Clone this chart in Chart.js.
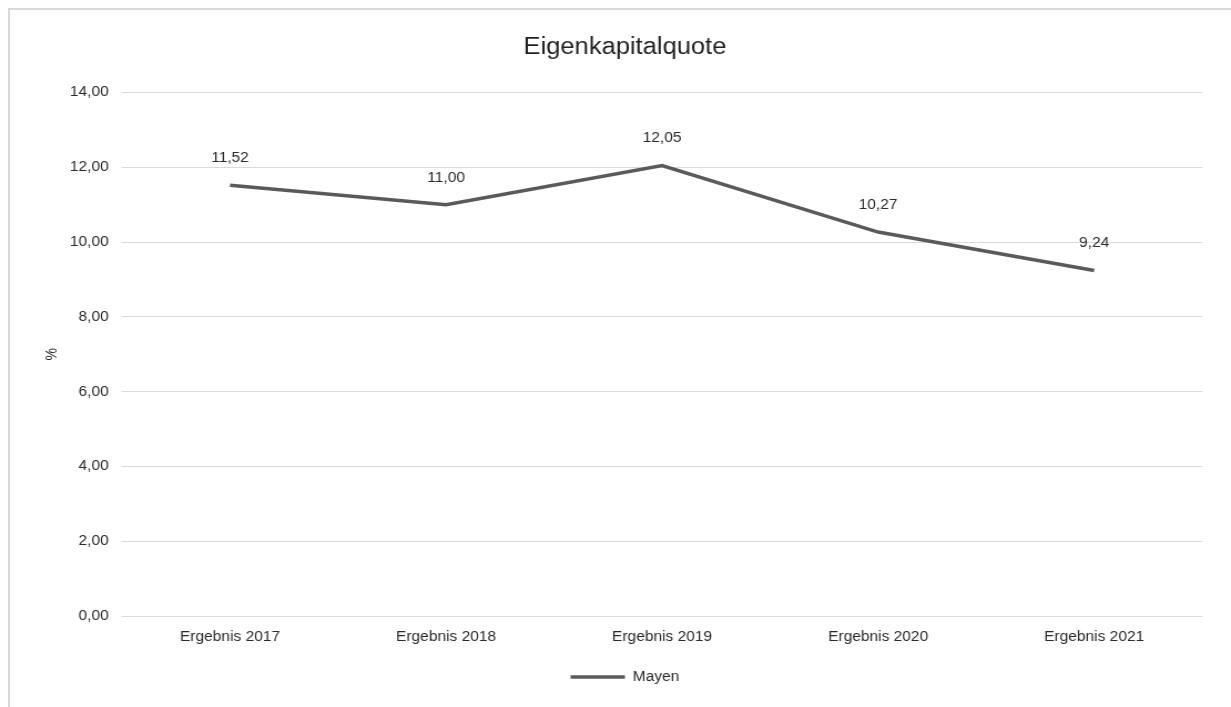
<!DOCTYPE html>
<html>
<head>
<meta charset="utf-8">
<script src="https://cdn.jsdelivr.net/npm/chart.js@4.4.1/dist/chart.umd.min.js"></script>
<style>
  html, body { margin: 0; padding: 0; background: #fff; overflow: hidden; }
  #frame {
    position: absolute; left: 8px; top: 8px; width: 1300px; height: 800px;
    border-left: 2px solid #d9d9d9; border-top: 2px solid #d9d9d9;
  }
  /* reference text is a bit wider than it is tall, so stretch horizontally */
  #wrap { position: absolute; left: 0; top: 0; transform-origin: 0 0; transform: scaleX(1.109); }
</style>
</head>
<body>
<div id="frame"></div>
<div id="wrap"><canvas id="chart" width="1110" height="707"></canvas></div>
<script>
// data
const categories = ["Ergebnis 2017", "Ergebnis 2018", "Ergebnis 2019", "Ergebnis 2020", "Ergebnis 2021"];
const seriesName = "Mayen";
const mayenValues = [11.52, 11.00, 12.05, 10.27, 9.24];
const yTicks = [0, 2, 4, 6, 8, 10, 12, 14];

const fmt = v => v.toFixed(2).replace(".", ",");
const FONT = "'Liberation Sans', Arial, Helvetica, sans-serif";
const TEXT = "#2b2b2b";

// small plugin to write the value above each point
const valueLabels = {
  id: "valueLabels",
  afterDatasetsDraw(chart) {
    const ctx = chart.ctx;
    const meta = chart.getDatasetMeta(0);
    ctx.save();
    ctx.font = "14px " + FONT;
    ctx.fillStyle = TEXT;
    ctx.textAlign = "center";
    ctx.textBaseline = "middle";
    meta.data.forEach((pt, i) => {
      ctx.fillText(fmt(chart.data.datasets[0].data[i]), pt.x, pt.y - 27);
    });
    ctx.restore();
  }
};

new Chart(document.getElementById("chart"), {
  type: "line",
  data: {
    labels: categories,
    datasets: [{
      label: seriesName,
      data: mayenValues,
      borderColor: "#5a5a5a",
      backgroundColor: "#5a5a5a",
      borderWidth: 3.5,
      pointRadius: 0,
      pointHoverRadius: 0,
      pointStyle: "line",
      tension: 0
    }]
  },
  options: {
    responsive: false,
    animation: false,
    events: [],
    layout: { padding: { left: 43, right: 26, top: 0, bottom: 13 } },
    scales: {
      x: {
        offset: true,
        grid: { display: false },
        border: { display: false },
        ticks: { color: TEXT, font: { family: FONT, size: 14 }, padding: 5, maxRotation: 0 },
        afterFit: s => { s.height = 44; }
      },
      y: {
        min: 0,
        max: 14,
        afterBuildTicks: s => { s.ticks = yTicks.map(v => ({ value: v })); },
        grid: { color: "#d9d9d9", lineWidth: 1, drawTicks: false },
        border: { display: false },
        ticks: { color: TEXT, font: { family: FONT, size: 14 }, padding: 12, callback: v => fmt(v) },
        title: { display: true, text: "%", color: TEXT, font: { family: FONT, size: 14 }, padding: { top: -4, bottom: 0 } },
        afterFit: s => { s.width = 67; }
      }
    },
    plugins: {
      title: {
        display: true,
        text: "Eigenkapitalquote",
        color: "#1f1f1f",
        font: { family: FONT, size: 23, weight: "normal" },
        padding: { top: 34, bottom: 31 }
      },
      legend: {
        position: "bottom",
        labels: {
          color: TEXT,
          font: { family: FONT, size: 14 },
          usePointStyle: true,
          pointStyleWidth: 49,
          padding: 10
        }
      },
      tooltip: { enabled: false }
    }
  },
  plugins: [valueLabels]
});
</script>
</body>
</html>
